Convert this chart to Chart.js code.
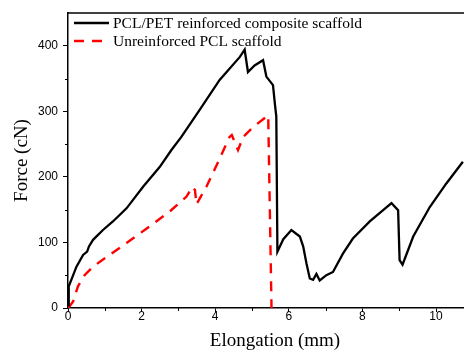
<!DOCTYPE html>
<html lang="en">
<head>
    <meta charset="UTF-8">
    <title>Force vs Elongation</title>
    <script src="https://cdn.jsdelivr.net/npm/chart.js"></script>
    <style>
        html, body {
            margin: 0;
            padding: 0;
            background: #fff;
        }
        #wrap {
            width: 464px;
            height: 354px;
        }
    </style>
</head>
<body>
    <div id="wrap"><canvas id="forceChart" width="464" height="354"></canvas></div>

    <script>
        // data
        const seriesNames = ['PCL/PET reinforced composite scaffold', 'Unreinforced PCL scaffold'];

        const pclPetX = [0, 0.02, 0.09, 0.23, 0.41, 0.52, 0.57, 0.68, 0.95, 1.22, 1.59, 2.04, 2.49, 2.81, 3.08, 3.6, 4.12, 4.67, 4.80, 4.89, 5.07, 5.30, 5.39, 5.57, 5.62, 5.66, 5.69, 5.85, 6.07, 6.30, 6.39, 6.48, 6.57, 6.66, 6.75, 6.84, 7.02, 7.20, 7.47, 7.74, 8.20, 8.79, 8.97, 9.01, 9.09, 9.38, 9.83, 10.28, 10.73];
        const pclPetY = [4, 33, 43, 63, 81, 86, 94, 104, 119, 132, 152, 185, 215, 241, 261, 304, 348, 383, 394, 360, 370, 378, 353, 340, 312, 292, 86, 105, 119, 109, 94, 68, 45, 43, 52, 42, 50, 55, 83, 106, 132, 160, 149, 73, 66, 109, 154, 190, 223];

        const pclX = [0, 0.05, 0.14, 0.27, 0.45, 0.68, 1.13, 1.59, 2.13, 2.76, 3.22, 3.38, 3.45, 3.49, 3.76, 3.99, 4.39, 4.45, 4.62, 4.76, 5.03, 5.44, 5.53];
        const pclY = [0, 3, 10, 33, 50, 63, 81, 99, 121, 147, 170, 185, 180, 158, 185, 212, 261, 264, 241, 261, 276, 294, 0];

        const xTicks = [0, 2, 4, 6, 8, 10];
        const xMinorTicks = [1, 3, 5, 7, 9];
        const yTicks = [0, 100, 200, 300, 400];
        const yMinorTicks = [50, 150, 250, 350];
        const xTitle = 'Elongation (mm)';

        function toPoints(xs, ys) {
            return xs.map((x, i) => ({ x: x, y: ys[i] }));
        }

        const serif = '"Liberation Serif", "Times New Roman", serif';
        const sans = '"Liberation Sans", Arial, sans-serif';

        // top frame line, short minor ticks, x title (plot is cropped on the right)
        const framePlugin = {
            id: 'frame',
            afterDraw(chart) {
                const ctx = chart.ctx;
                const area = chart.chartArea;
                const xs = chart.scales.x;
                const ys = chart.scales.y;
                ctx.save();
                ctx.strokeStyle = '#000';
                ctx.lineWidth = 1.5;
                ctx.beginPath();
                ctx.moveTo(area.left, area.top);
                ctx.lineTo(area.right, area.top);
                ctx.stroke();
                ctx.lineWidth = 1;
                ctx.beginPath();
                xMinorTicks.forEach(v => {
                    const px = Math.round(xs.getPixelForValue(v)) + 0.5;
                    ctx.moveTo(px, area.bottom);
                    ctx.lineTo(px, area.bottom + 3);
                });
                yMinorTicks.forEach(v => {
                    const py = Math.round(ys.getPixelForValue(v)) + 0.5;
                    ctx.moveTo(area.left, py);
                    ctx.lineTo(area.left - 3, py);
                });
                ctx.stroke();
                ctx.fillStyle = '#000';
                ctx.font = '19px ' + serif;
                ctx.textAlign = 'center';
                ctx.textBaseline = 'middle';
                ctx.fillText(xTitle, 275, 341);
                ctx.restore();
            }
        };

        // legend drawn in the upper left corner of the plot
        const legendPlugin = {
            id: 'cornerLegend',
            afterDraw(chart) {
                const ctx = chart.ctx;
                const lens = [35, 29];
                ctx.save();
                ctx.font = '15.5px ' + serif;
                ctx.textBaseline = 'middle';
                chart.data.datasets.forEach((ds, i) => {
                    const y = 23 + i * 18;
                    ctx.strokeStyle = ds.borderColor;
                    ctx.lineWidth = ds.borderWidth;
                    ctx.setLineDash(ds.borderDash || []);
                    ctx.beginPath();
                    ctx.moveTo(74, y);
                    ctx.lineTo(74 + lens[i], y);
                    ctx.stroke();
                    ctx.setLineDash([]);
                    ctx.fillStyle = '#000';
                    ctx.fillText(ds.label, 113, y + 0.5);
                });
                ctx.restore();
            }
        };

        const ctx = document.getElementById('forceChart').getContext('2d');
        new Chart(ctx, {
            type: 'line',
            data: {
                datasets: [{
                    label: seriesNames[0],
                    data: toPoints(pclPetX, pclPetY),
                    borderColor: '#000000',
                    borderWidth: 2.3,
                    pointRadius: 0,
                    tension: 0
                }, {
                    label: seriesNames[1],
                    data: toPoints(pclX, pclY),
                    borderColor: '#ff0000',
                    borderWidth: 2.4,
                    borderDash: [10, 8],
                    pointRadius: 0,
                    tension: 0
                }]
            },
            options: {
                responsive: false,
                animation: false,
                layout: {
                    padding: { top: 13, right: 0, bottom: 0, left: 0 }
                },
                plugins: {
                    legend: { display: false },
                    tooltip: { enabled: false }
                },
                scales: {
                    x: {
                        type: 'linear',
                        min: 0,
                        max: 10.76,
                        afterBuildTicks: s => { s.ticks = xTicks.map(v => ({ value: v })); },
                        afterFit: s => { s.height = 46; },
                        grid: {
                            drawOnChartArea: false,
                            tickLength: 4,
                            tickColor: '#000',
                            tickWidth: 1
                        },
                        border: { color: '#000', width: 1.5 },
                        ticks: {
                            padding: -3,
                            maxRotation: 0,
                            color: '#000',
                            font: { family: sans, size: 12 }
                        },
                        title: { display: false }
                    },
                    y: {
                        min: 0,
                        max: 450,
                        afterBuildTicks: s => { s.ticks = yTicks.map(v => ({ value: v })); },
                        afterFit: s => { s.width = 68; },
                        grid: {
                            drawOnChartArea: false,
                            tickLength: 5,
                            tickColor: '#000',
                            tickWidth: 1
                        },
                        border: { color: '#000', width: 1.5 },
                        ticks: {
                            padding: 5,
                            color: '#000',
                            font: { family: sans, size: 12 }
                        },
                        title: {
                            display: true,
                            text: 'Force (cN)',
                            color: '#000',
                            font: { family: serif, size: 19 },
                            padding: { top: 11, bottom: 0 }
                        }
                    }
                }
            },
            plugins: [framePlugin, legendPlugin]
        });
    </script>
</body>
</html>
